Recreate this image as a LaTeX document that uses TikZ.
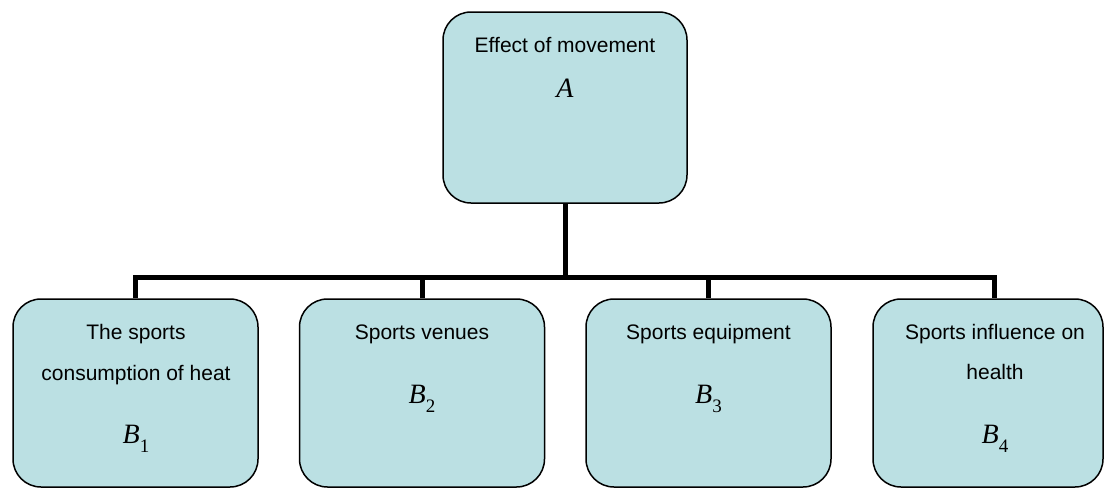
\documentclass[tikz,border=0pt]{standalone}
\usepackage{fontspec}
\setmainfont{Liberation Sans}
\newfontfamily\tnr{Liberation Serif}
\definecolor{boxfill}{HTML}{BBE0E3}
\newcommand{\Bsub}[1]{B\raisebox{-9pt}{\fontsize{19}{19}\selectfont\upshape #1}}
\begin{document}
\begin{tikzpicture}[x=1pt,y=-1pt,
  box/.style={draw=black, line width=1.5pt, fill=boxfill, rounded corners=28pt, inner sep=0pt},
  bbox/.style={box, minimum width=245pt, minimum height=188pt},
  conn/.style={line width=5pt, black, line join=miter},
  lbl/.style={anchor=base, inner sep=0pt, font=\fontsize{21}{25}\selectfont},
  sym/.style={anchor=base, inner sep=0pt, font=\fontsize{28}{32}\selectfont\tnr\itshape}]
\clip (0,0) rectangle (1104,488);
\fill[white] (0,0) rectangle (1104,488);
% boxes
\node[box, minimum width=244pt, minimum height=191pt] (top) at (565,107.5) {};
\node[bbox] (b1) at (135.5,393) {};
\node[bbox] (b2) at (422,393) {};
\node[bbox] (b3) at (708.5,393) {};
\node[bbox, minimum width=230pt] (b4) at (988,393) {};
\coordinate (b4n) at ([xshift=6pt]b4.north);
\coordinate (j) at (565,277);
% connectors
\draw[conn] (top.south) -- (j);
\draw[conn] (b1.north) -- (b1.north |- j) -- (b4n |- j) -- (b4n);
\draw[conn] (b2.north) -- (b2.north |- j);
\draw[conn] (b3.north) -- (b3.north |- j);
% texts
\node[lbl] (tA) at (565,52) {Effect of movement};
\node[sym] (sA) at (565,97) {A};
\node[lbl] (t1a) at (136,339) {The sports};
\node[lbl] (t1b) at (136,380) {consumption of heat};
\node[sym] (s1) at (136,443) {\Bsub{1}};
\node[lbl] (t2) at (422,339) {Sports venues};
\node[sym] (s2) at (422,403) {\Bsub{2}};
\node[lbl] (t3) at (708.5,339) {Sports equipment};
\node[sym] (s3) at (708.5,403) {\Bsub{3}};
\node[lbl] (t4a) at (995,339) {Sports influence on};
\node[lbl] (t4b) at (995,379) {health};
\node[sym] (s4) at (995,443) {\Bsub{4}};
\end{tikzpicture}
\end{document}
